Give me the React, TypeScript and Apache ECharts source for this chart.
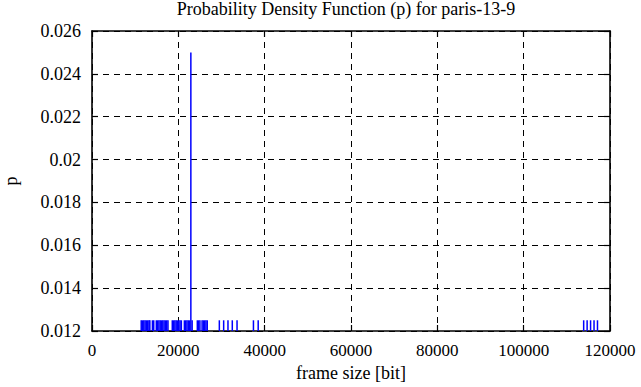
import React, { useEffect, useRef } from "react";
import * as echarts from "echarts";

const titleText = "Probability Density Function (p) for paris-13-9";
const xAxisName = "frame size [bit]";
const yAxisName = "p";

// frame sizes (bits) of each impulse and their probability density
const frameSizes = [
  11400, 11700, 12000, 12300, 12600, 12900, 13200, 13400,
  14000, 14300, 14900, 15200, 15500, 15800, 16100, 16400, 16700, 17000, 17300, 17600,
  18600, 18900, 19200, 19500, 19800, 20100, 20400, 20700,
  21400, 21700, 22000, 22300, 22600, 22900, 23200,
  24400, 24700, 25000,
  25500, 25800, 26100, 26400, 26700,
  29500, 30500, 31500, 32500, 33600,
  37400, 38500,
  113900, 114700, 115500, 116300, 117100,
];
const probabilities = [
  0.0125, 0.0125, 0.0125, 0.0125, 0.0125, 0.0125, 0.0125, 0.0125,
  0.0125, 0.0125, 0.0125, 0.0125, 0.0125, 0.0125, 0.0125, 0.0125, 0.0125, 0.0125, 0.0125, 0.0125,
  0.0125, 0.0125, 0.0125, 0.0125, 0.0125, 0.0125, 0.0125, 0.0125,
  0.0125, 0.0125, 0.0125, 0.0125, 0.0125, 0.025, 0.0125,
  0.0125, 0.0125, 0.0125,
  0.0125, 0.0125, 0.0125, 0.0125, 0.0125,
  0.0125, 0.0125, 0.0125, 0.0125, 0.0125,
  0.0125, 0.0125,
  0.0125, 0.0125, 0.0125, 0.0125, 0.0125,
];

const xMin = 0;
const xMax = 120000;
const xStep = 20000;
const yMin = 0.012;
const yMax = 0.026;
const yStep = 0.002;

const FONT = "'Liberation Serif', 'Times New Roman', serif";

export default function App() {
  const ref = useRef<HTMLDivElement>(null);

  useEffect(() => {
    if (!ref.current) return;
    const chart = echarts.init(ref.current, undefined, { renderer: "svg" });
    const data = frameSizes.map((x, i) => [x, probabilities[i]]);
    const grid = { left: 92, right: 31, top: 31, bottom: 56 };
    const dashed = { show: true, lineStyle: { color: "#000", width: 1, type: [6, 5] as any } };
    const tickIn = { show: true, inside: true, length: 6, lineStyle: { color: "#000", width: 1.2 } };
    const axisLine = { show: true, onZero: false, lineStyle: { color: "#000", width: 1.6 } };

    chart.setOption({
      animation: false,
      backgroundColor: "#fff",
      title: {
        text: titleText,
        left: 346,
        top: 0,
        padding: 0,
        textAlign: "center",
        textStyle: { fontFamily: FONT, fontSize: 18, fontWeight: "normal", color: "#000" },
      },
      grid: { ...grid, show: false, containLabel: false, outerBoundsMode: "none" },
      xAxis: [
        {
          type: "value",
          min: xMin,
          max: xMax,
          interval: xStep,
          position: "bottom",
          name: xAxisName,
          nameLocation: "middle",
          nameGap: 26,
          nameTextStyle: { fontFamily: FONT, fontSize: 18, color: "#000" },
          axisLine,
          axisTick: tickIn,
          splitLine: dashed,
          axisLabel: {
            margin: 11,
            fontFamily: FONT,
            fontSize: 17,
            color: "#000",
            formatter: (v: number) => String(v),
          },
        },
        {
          type: "value",
          min: xMin,
          max: xMax,
          interval: xStep,
          position: "top",
          axisLine,
          axisTick: tickIn,
          splitLine: { show: false },
          axisLabel: { show: false },
        },
      ],
      yAxis: [
        {
          type: "value",
          min: yMin,
          max: yMax,
          interval: yStep,
          position: "left",
          name: yAxisName,
          nameLocation: "middle",
          nameRotate: 90,
          nameGap: 72,
          nameTextStyle: { fontFamily: FONT, fontSize: 18, color: "#000" },
          axisLine,
          axisTick: tickIn,
          splitLine: dashed,
          axisLabel: {
            margin: 11,
            fontFamily: FONT,
            fontSize: 18,
            color: "#000",
            formatter: (v: number) => String(+v.toFixed(3)),
          },
        },
        {
          type: "value",
          min: yMin,
          max: yMax,
          interval: yStep,
          position: "right",
          axisLine,
          axisTick: tickIn,
          splitLine: { show: false },
          axisLabel: { show: false },
        },
      ],
      series: [
        {
          type: "custom",
          xAxisIndex: 0,
          yAxisIndex: 0,
          clip: true,
          data,
          renderItem: (_params: any, api: any) => {
            const x = api.value(0);
            const y = api.value(1);
            const p0 = api.coord([x, yMin]);
            const p1 = api.coord([x, y]);
            return {
              type: "line",
              shape: { x1: p0[0], y1: p0[1], x2: p1[0], y2: p1[1] },
              style: { stroke: "#0000ff", lineWidth: 1.5 },
            };
          },
        },
      ],
    });
    return () => chart.dispose();
  }, []);

  return (
    <div
      ref={ref}
      style={{ position: "absolute", left: 0, top: 0, width: 641, height: 387 }}
    />
  );
}
